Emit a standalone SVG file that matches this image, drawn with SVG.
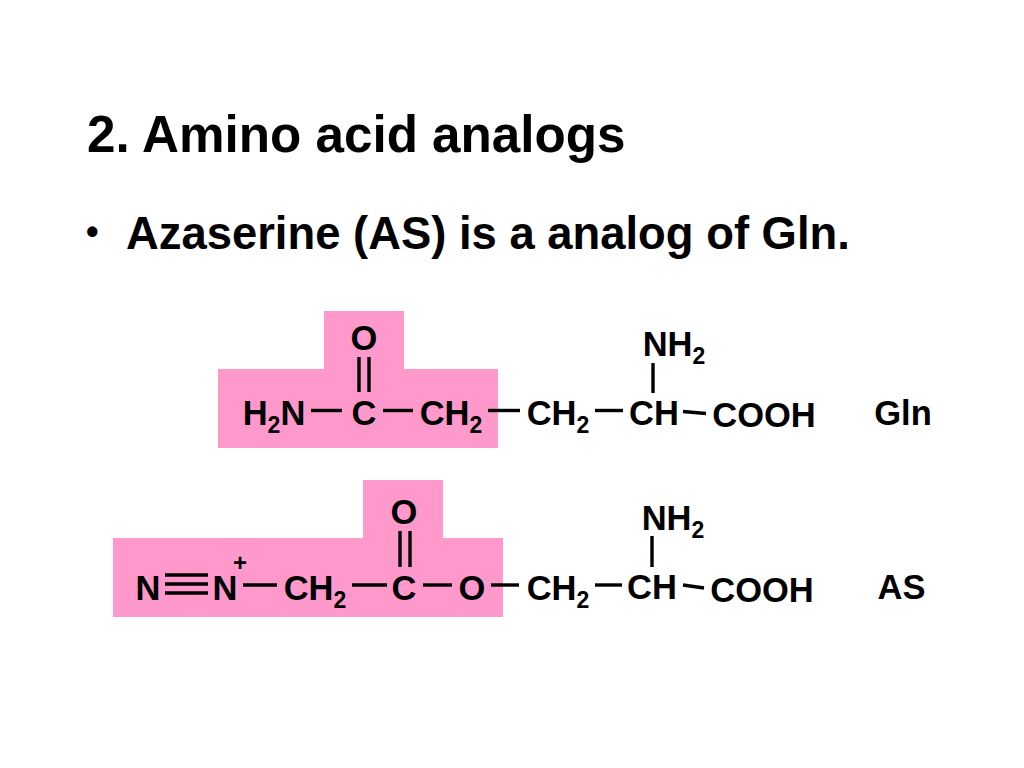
<svg xmlns="http://www.w3.org/2000/svg" width="1024" height="768" viewBox="0 0 1024 768">
<style>
text{font-family:"Liberation Sans",Arial,sans-serif;font-weight:bold;fill:#000}
.h{font-size:51.2px}.b{font-size:45.4px}.t{font-size:34.5px;text-anchor:middle}.s{font-size:23px}
.c line{stroke:#000;stroke-width:3.4}
</style>
<rect width="1024" height="768" fill="#fff"/>
<g id="title"><text class="h" x="87" y="152">2. Amino acid analogs</text></g>
<g id="bullet"><text x="86" y="244" style="font-size:36px">•</text><text class="b" x="126" y="249">Azaserine (AS) is a analog of Gln.</text></g>
<g id="highlights" fill="#ff99cc">
<path d="M218 369H324V311H404V369H498V448H218Z"/>
<path d="M113 538H363V480H443V538H503V617H113Z"/>
</g>
<g id="connectors" class="c">
<line x1="311" y1="410.500" x2="342" y2="410.500"/><line x1="383" y1="410.500" x2="413" y2="410.500"/><line x1="488" y1="410.500" x2="520" y2="410.500"/><line x1="595" y1="410.500" x2="623" y2="410.500"/><line x1="683" y1="411.500" x2="706" y2="413.500"/>
<line x1="359" y1="357" x2="359" y2="392"/><line x1="369" y1="357" x2="369" y2="392"/><line x1="653" y1="363" x2="653" y2="393"/>
<line x1="165" y1="575" x2="208" y2="575"/><line x1="165" y1="584" x2="208" y2="584"/><line x1="165" y1="593" x2="208" y2="593"/>
<line x1="243" y1="585" x2="277" y2="585"/><line x1="352" y1="585" x2="387" y2="585"/><line x1="423" y1="585" x2="452" y2="585"/><line x1="491" y1="585" x2="519" y2="585"/><line x1="595" y1="585" x2="622" y2="585"/><line x1="683" y1="585" x2="704" y2="588"/>
<line x1="400" y1="531" x2="400" y2="567"/><line x1="410" y1="531" x2="410" y2="567"/><line x1="652" y1="536" x2="652" y2="567"/>
</g>
<g id="gln">
<g id="gln-h2n"><text class="t" x="274" y="425">H<tspan class="s" dy="8">2</tspan><tspan dy="-8">N</tspan></text></g>
<g id="gln-c"><text class="t" x="364" y="425">C</text></g>
<g id="gln-o"><text class="t" x="364" y="350">O</text></g>
<g id="gln-ch2a"><text class="t" x="451" y="425">CH<tspan class="s" dy="8">2</tspan></text></g>
<g id="gln-ch2b"><text class="t" x="558" y="425">CH<tspan class="s" dy="8">2</tspan></text></g>
<g id="gln-ch"><text class="t" x="654" y="425">CH</text></g>
<g id="gln-nh2"><text class="t" x="674" y="355.500">NH<tspan class="s" dy="8">2</tspan></text></g>
<g id="gln-cooh"><text class="t" x="764" y="427">COOH</text></g>
<g id="gln-label"><text class="t" x="903" y="425">Gln</text></g>
</g>
<g id="as">
<g id="as-n1"><text class="t" x="148" y="600">N</text></g>
<g id="as-n2"><text class="t" x="225" y="600">N</text></g>
<g id="as-plus"><text class="t" x="240" y="571" style="font-size:24px">+</text></g>
<g id="as-ch2a"><text class="t" x="315" y="600">CH<tspan class="s" dy="8">2</tspan></text></g>
<g id="as-c"><text class="t" x="404" y="600">C</text></g>
<g id="as-o1"><text class="t" x="404" y="524">O</text></g>
<g id="as-o2"><text class="t" x="472" y="600">O</text></g>
<g id="as-ch2b"><text class="t" x="558" y="600">CH<tspan class="s" dy="8">2</tspan></text></g>
<g id="as-ch"><text class="t" x="652" y="598.500">CH</text></g>
<g id="as-nh2"><text class="t" x="673" y="529.500">NH<tspan class="s" dy="8">2</tspan></text></g>
<g id="as-cooh"><text class="t" x="762" y="602">COOH</text></g>
<g id="as-label"><text class="t" x="901.500" y="599">AS</text></g>
</g>
</svg>
